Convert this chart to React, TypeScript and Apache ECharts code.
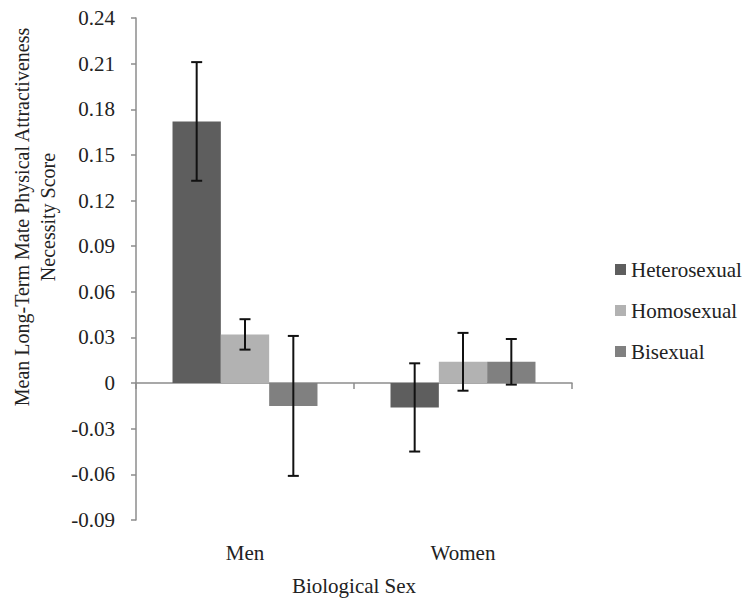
import React, { useEffect, useRef } from "react";
import * as echarts from "echarts";

const categories = ["Men", "Women"];
const seriesNames = ["Heterosexual", "Homosexual", "Bisexual"];
const heteroValues = [0.172, -0.016];
const homoValues = [0.032, 0.014];
const biValues = [-0.015, 0.014];
const heteroErr = [0.039, 0.029];
const homoErr = [0.010, 0.019];
const biErr = [0.046, 0.015];
const colors = ["#5e5e5e", "#b2b2b2", "#808080"];

const FONT = "'Liberation Serif', 'Times New Roman', serif";
const BAR_GAP_CAT = 0.335;
const FS = 21;

export default function App() {
  const ref = useRef<HTMLDivElement>(null);
  useEffect(() => {
    if (!ref.current) return;
    const chart = echarts.init(ref.current, undefined, { renderer: "svg" });
    const values = [heteroValues, homoValues, biValues];
    const errs = [heteroErr, homoErr, biErr];
    const errData: number[][] = [];
    for (let s = 0; s < 3; s++) {
      for (let c = 0; c < categories.length; c++) {
        errData.push([c, s, values[s][c] - errs[s][c], values[s][c] + errs[s][c]]);
      }
    }
    const barSeries = seriesNames.map((name, i) => ({
      name,
      type: "bar",
      xAxisIndex: 0,
      data: values[i],
      itemStyle: { color: colors[i] },
      barGap: "0%",
      barCategoryGap: (BAR_GAP_CAT * 100).toFixed(1) + "%",
    }));
    chart.setOption({
      animation: false,
      backgroundColor: "#ffffff",
      textStyle: { fontFamily: FONT },
      grid: { left: 136, right: 177, top: 18, bottom: 81 },
      legend: {
        orient: "vertical",
        left: 610,
        top: 254,
        itemWidth: 11,
        itemHeight: 11,
        itemGap: 20,
        icon: "rect",
        data: seriesNames,
        textStyle: { fontFamily: FONT, fontSize: FS, color: "#222" },
      },
      xAxis: [
        {
          type: "category",
          data: categories,
          axisLine: { onZero: true, lineStyle: { color: "#8c8c8c", width: 1.5 } },
          axisTick: { show: true, length: 6, lineStyle: { color: "#8c8c8c", width: 1.5 } },
          axisLabel: { show: false },
        },
        {
          type: "category",
          data: categories,
          position: "bottom",
          axisLine: { show: false, onZero: false },
          axisTick: { show: false },
          axisLabel: { show: true, margin: 22, fontFamily: FONT, fontSize: FS, color: "#222" },
          name: "Biological Sex",
          nameLocation: "middle",
          nameGap: 55,
          nameTextStyle: { fontFamily: FONT, fontSize: FS, color: "#222" },
        },
      ],
      yAxis: {
        type: "value",
        min: -0.09,
        max: 0.24,
        interval: 0.03,
        axisLine: { show: true, lineStyle: { color: "#8c8c8c", width: 1.5 } },
        axisTick: { show: true, length: 5, lineStyle: { color: "#8c8c8c", width: 1.5 } },
        splitLine: { show: false },
        axisLabel: {
          margin: 21,
          fontFamily: FONT,
          fontSize: FS,
          color: "#222",
          formatter: (v: number) => (Math.abs(v) < 1e-9 ? "0" : v.toFixed(2)),
        },
      },
      graphic: [
        {
          type: "text",
          x: 35,
          y: 217,
          rotation: Math.PI / 2,
          style: {
            text: "Mean Long-Term Mate Physical Attractiveness\nNecessity Score",
            fontFamily: FONT,
            fontSize: 20,
            lineHeight: 26,
            fill: "#222",
            textAlign: "center",
            textVerticalAlign: "middle",
          },
        },
      ],
      series: [
        ...barSeries,
        {
          type: "custom",
          xAxisIndex: 0,
          silent: true,
          data: errData,
          encode: { x: 0, y: [2, 3] },
          z: 10,
          renderItem: (params: any, api: any) => {
            const c = api.value(0);
            const s = api.value(1);
            const lo = api.value(2);
            const hi = api.value(3);
            const bandW = api.size([1, 0])[0];
            const barW = (bandW * (1 - BAR_GAP_CAT)) / 3;
            const center = api.coord([c, 0])[0];
            const x = center + (s - 1) * barW;
            const yLo = api.coord([c, lo])[1];
            const yHi = api.coord([c, hi])[1];
            const cap = 5.5;
            const style = { stroke: "#111", lineWidth: 2 };
            return {
              type: "group",
              children: [
                { type: "line", shape: { x1: x, y1: yLo, x2: x, y2: yHi }, style },
                { type: "line", shape: { x1: x - cap, y1: yHi, x2: x + cap, y2: yHi }, style },
                { type: "line", shape: { x1: x - cap, y1: yLo, x2: x + cap, y2: yLo }, style },
              ],
            };
          },
        },
      ],
    });
    return () => chart.dispose();
  }, []);
  return <div ref={ref} style={{ width: 749, height: 601, position: "absolute", left: 0, top: 0 }} />;
}
